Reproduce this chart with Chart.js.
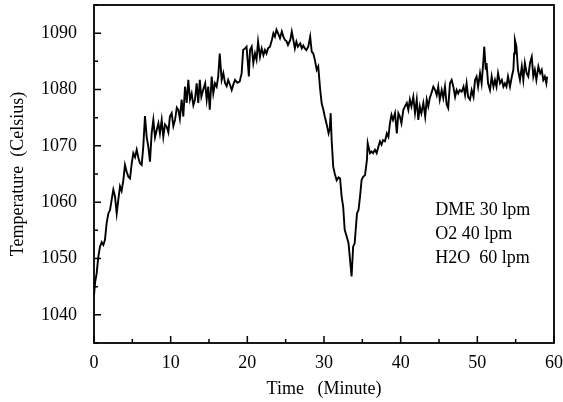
<!DOCTYPE html>
<html>
<head>
<meta charset="utf-8">
<script src="https://cdn.jsdelivr.net/npm/chart.js@4.4.1/dist/chart.umd.min.js"></script>
<style>
  body { margin: 0; background: #fff; }
</style>
</head>
<body>
<canvas id="temp-chart" width="563" height="402"></canvas>
<script>
// time in minutes / temperature in Celsius
var timeMin = [
  0, 0.15, 0.35, 0.56, 0.78, 1.0, 1.22, 1.43, 1.65, 1.87, 2.09, 2.3, 2.52, 2.74, 2.96, 3.17, 3.39, 3.6, 3.83,
  4.04, 4.26, 4.48, 4.7, 4.92, 5.13, 5.35, 5.57, 5.8, 6.0, 6.22, 6.43, 6.65, 6.87, 7.08, 7.3, 7.52, 7.74,
  7.96, 8.18, 8.4, 8.6, 8.83, 9.04, 9.26, 9.48, 9.7, 9.9, 10.13, 10.35, 10.57, 10.8, 11.0, 11.2, 11.43, 11.65,
  11.87, 12.09, 12.3, 12.52, 12.74, 12.96, 13.17, 13.39, 13.6, 13.8, 14.0, 14.25, 14.5, 14.7, 14.9, 15.1,
  15.35, 15.56, 15.78, 16.0, 16.2, 16.4, 16.65, 16.87, 17.1, 17.3, 17.5, 17.75, 17.96, 18.2, 18.4, 18.7,
  19.0, 19.26, 19.45, 19.7, 19.9, 20.1, 20.2, 20.35, 20.57, 20.78, 21.0, 21.2, 21.4, 21.65, 21.87, 22.1,
  22.3, 22.5, 22.7, 22.95, 23.2, 23.4, 23.6, 23.8, 24.0, 24.26, 24.5, 24.7, 24.9, 25.1, 25.3, 25.6, 25.8,
  26.0, 26.2, 26.4, 26.6, 26.9, 27.1, 27.3, 27.5, 27.7, 27.95, 28.2, 28.4, 28.6, 28.8, 29.05, 29.25, 29.5,
  29.7, 29.9, 30.1, 30.35, 30.6, 30.75, 30.87, 31.0, 31.2, 31.4, 31.65, 31.9, 32.1, 32.3, 32.5, 32.7, 32.96,
  33.2, 33.4, 33.6, 33.8, 34.0, 34.3, 34.5, 34.7, 34.9, 35.1, 35.35, 35.6, 35.7, 36.0, 36.2, 36.4, 36.65,
  36.87, 37.1, 37.3, 37.5, 37.7, 37.95, 38.2, 38.4, 38.6, 38.8, 39.0, 39.26, 39.5, 39.7, 39.9, 40.1, 40.35,
  40.56, 40.8, 41.0, 41.2, 41.4, 41.65, 41.87, 42.1, 42.3, 42.5, 42.7, 42.96, 43.2, 43.4, 43.6, 43.8, 44.0,
  44.26, 44.5, 44.7, 44.9, 45.1, 45.35, 45.56, 45.78, 46.0, 46.2, 46.43, 46.65, 46.87, 47.1, 47.3, 47.5,
  47.7, 47.96, 48.2, 48.4, 48.6, 48.8, 49.04, 49.26, 49.5, 49.7, 49.9, 50.1, 50.35, 50.56, 50.8, 50.9,
  51.1, 51.2, 51.4, 51.65, 51.87, 52.1, 52.3, 52.5, 52.7, 52.96, 53.2, 53.4, 53.6, 53.8, 54.0, 54.26, 54.5,
  54.7, 54.8, 54.9, 55.1, 55.3, 55.56, 55.8, 56.0, 56.2, 56.43, 56.65, 56.87, 57.1, 57.3, 57.5, 57.7, 57.96,
  58.2, 58.4, 58.6, 58.8, 59.0, 59.1
];
var tempC = [
  1043.5, 1045.8, 1047.4, 1050.3, 1052.1, 1052.9, 1052.4, 1053.3, 1056.3, 1058.0, 1058.6, 1060.4, 1062.2, 1061.0, 1058.0, 1060.4, 1062.8, 1062.0, 1063.9,
  1066.6, 1065.4, 1064.5, 1064.2, 1066.9, 1068.7, 1068.0, 1069.3, 1067.8, 1066.9, 1066.6, 1069.9, 1075.3, 1071.6, 1069.9, 1067.2, 1072.2, 1074.6,
  1071.5, 1072.8, 1074.0, 1072.2, 1074.6, 1071.6, 1073.8, 1073.4, 1072.4, 1075.2, 1075.8, 1073.5, 1074.6, 1076.8, 1076.4, 1074.8, 1078.2, 1075.2,
  1080.5, 1077.6, 1081.7, 1078.2, 1079.3, 1077.2, 1078.2, 1081.1, 1077.6, 1081.7, 1078.7, 1080.0, 1081.1, 1078.2, 1080.5, 1076.4,
  1082.3, 1079.3, 1081.1, 1080.5, 1082.3, 1086.4, 1081.7, 1082.9, 1081.1, 1080.6, 1081.7, 1080.8, 1079.9, 1081.0, 1081.7, 1081.2,
  1081.4, 1082.9, 1087.0, 1087.3, 1087.6, 1084.1, 1082.3, 1087.0, 1087.6, 1084.7, 1086.4, 1085.3, 1088.5, 1085.8, 1087.3, 1086.1,
  1087.0, 1086.4, 1087.3, 1087.6, 1088.8, 1090.0, 1089.4, 1090.6, 1090.0, 1089.1, 1090.3, 1089.4, 1088.8, 1088.6, 1087.9, 1088.8, 1090.3,
  1088.8, 1087.3, 1088.5, 1087.6, 1088.2, 1087.3, 1087.8, 1087.3, 1087.0, 1087.6, 1089.4, 1086.7, 1086.4, 1085.3, 1083.5, 1084.1, 1080.0,
  1077.5, 1076.5, 1075.2, 1073.8, 1072.2, 1073.0, 1075.8, 1071.0, 1066.3, 1065.1, 1063.9, 1064.4, 1064.2, 1061.0, 1059.2, 1055.1, 1053.9,
  1052.7, 1049.7, 1046.8, 1052.1, 1052.7, 1058.0, 1058.6, 1061.0, 1063.9, 1064.5, 1064.8, 1067.5, 1070.5, 1068.7, 1069.0, 1068.7, 1069.3,
  1068.7, 1069.9, 1070.8, 1070.2, 1071.0, 1070.8, 1072.2, 1071.6, 1074.0, 1075.5, 1074.6, 1075.8, 1072.2, 1075.8, 1075.2, 1074.0, 1076.4,
  1077.0, 1077.6, 1076.4, 1078.2, 1077.0, 1078.7, 1075.8, 1078.2, 1074.6, 1077.0, 1075.8, 1077.6, 1075.2, 1078.2, 1077.0, 1078.5, 1079.3,
  1080.5, 1079.9, 1079.0, 1080.5, 1078.2, 1079.9, 1078.5, 1080.5, 1077.3, 1076.7, 1081.1, 1081.7, 1080.5, 1078.7, 1079.9, 1079.3,
  1079.9, 1079.6, 1080.5, 1079.0, 1081.1, 1078.7, 1078.2, 1079.9, 1078.7, 1081.7, 1082.3, 1080.5, 1082.9, 1081.1, 1085.3, 1087.6,
  1083.5, 1084.7, 1081.1, 1079.9, 1082.3, 1080.5, 1081.7, 1080.5, 1082.9, 1081.1, 1081.7, 1080.5, 1081.1, 1080.5, 1082.3, 1080.5, 1082.3,
  1083.5, 1086.4, 1088.8, 1087.6, 1083.5, 1081.7, 1084.1, 1081.7, 1084.7, 1082.9, 1082.3, 1084.7, 1085.8, 1082.3, 1083.5, 1081.7, 1084.1,
  1082.9, 1083.5, 1081.7, 1082.3, 1081.1, 1082.3
];
var xTicks = [0, 10, 20, 30, 40, 50, 60];
var yTicks = [1040, 1050, 1060, 1070, 1080, 1090];
var noteLines = ['DME 30 lpm', 'O2 40 lpm', 'H2O  60 lpm'];

var serif = 'Liberation Serif';

// box around the plot + inward ticks (major every 10, minor every 5)
var frameAndTicks = {
  id: 'frameAndTicks',
  afterDatasetsDraw: function (chart) {
    var c = chart.ctx, a = chart.chartArea;
    var xs = chart.scales.x, ys = chart.scales.y;
    c.save();
    c.strokeStyle = '#000';
    c.lineWidth = 1.8;
    c.strokeRect(a.left, a.top, a.right - a.left, a.bottom - a.top);
    c.lineWidth = 1.5;
    c.beginPath();
    for (var v = 0; v <= 60; v += 5) {
      var px = xs.getPixelForValue(v);
      var len = v % 10 === 0 ? 7 : 4;
      c.moveTo(px, a.bottom);
      c.lineTo(px, a.bottom - len);
    }
    for (var t = 1035; t <= 1095; t += 5) {
      var py = ys.getPixelForValue(t);
      var l = t % 10 === 0 ? 7 : 4;
      c.moveTo(a.left, py);
      c.lineTo(a.left + l, py);
    }
    c.stroke();

    // flow notes
    c.fillStyle = '#000';
    c.font = '18px "' + serif + '"';
    c.textBaseline = 'middle';
    c.textAlign = 'left';
    for (var i = 0; i < noteLines.length; i++) {
      c.fillText(noteLines[i], xs.getPixelForValue(44.5), 210 + i * 24);
    }
    c.restore();
  }
};

var ctx = document.getElementById('temp-chart');
new Chart(ctx, {
  type: 'line',
  data: {
    datasets: [
      {
        data: timeMin.map(function (t, i) { return { x: t, y: tempC[i] }; }),
        borderColor: '#000',
        borderWidth: 1.9,
        pointRadius: 0,
        tension: 0,
        fill: false,
      },
    ],
  },
  options: {
    responsive: false,
    animation: false,
    layout: { padding: { top: 5, right: 9, left: 0, bottom: 0 } },
    plugins: { legend: { display: false }, tooltip: { enabled: false } },
    scales: {
      x: {
        type: 'linear',
        min: 0,
        max: 60,
        afterBuildTicks: function (s) { s.ticks = xTicks.map(function (v) { return { value: v }; }); },
        afterFit: function (s) { s.height = 59; s.paddingLeft = 0; s.paddingRight = 0; },
        grid: { display: false },
        border: { display: false },
        ticks: { color: '#000', font: { family: serif, size: 18 }, padding: 1, maxRotation: 0 },
        title: {
          display: true,
          text: 'Time   (Minute)',
          color: '#000',
          font: { family: serif, size: 18 },
          padding: { top: 0, bottom: 2 },
        },
      },
      y: {
        min: 1035,
        max: 1095,
        afterBuildTicks: function (s) { s.ticks = yTicks.map(function (v) { return { value: v }; }); },
        afterFit: function (s) { s.width = 94; s.paddingTop = 0; s.paddingBottom = 0; },
        grid: { display: false },
        border: { display: false },
        ticks: {
          color: '#000',
          font: { family: serif, size: 18 },
          padding: 9,
          callback: function (v) { return String(v); },
        },
        title: {
          display: true,
          text: 'Temperature  (Celsius)',
          color: '#000',
          font: { family: serif, size: 18 },
          padding: { top: 7, bottom: 0 },
        },
      },
    },
  },
  plugins: [frameAndTicks],
})
</script>
</body>
</html>
